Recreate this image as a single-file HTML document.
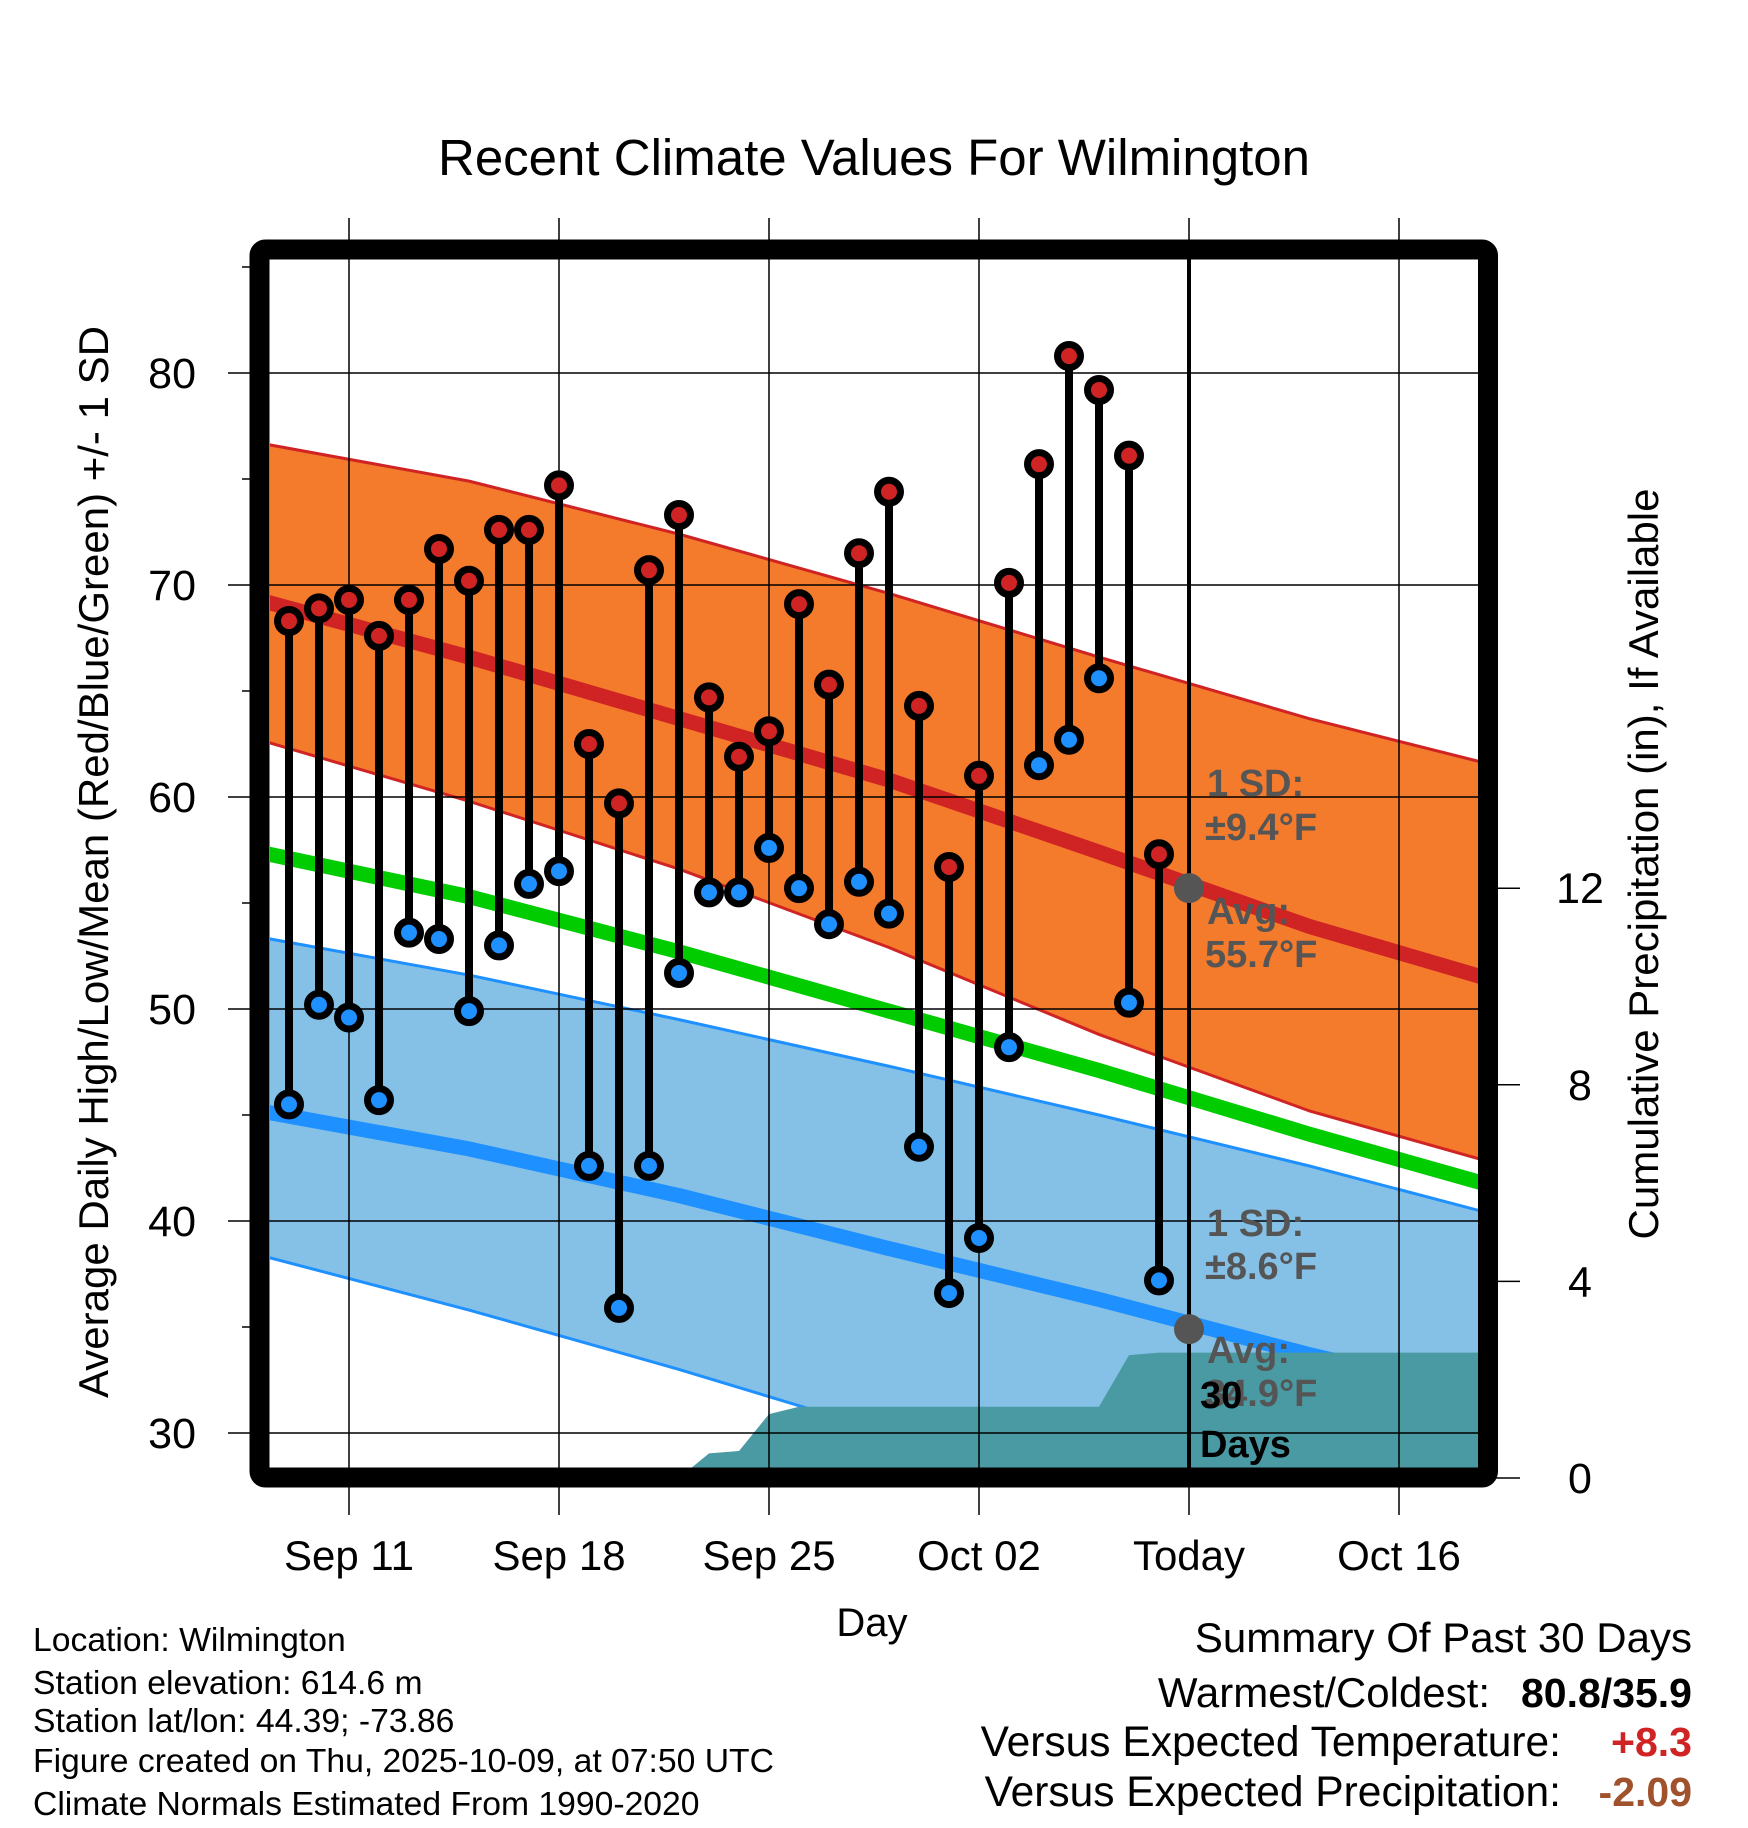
<!DOCTYPE html>
<html><head><meta charset="utf-8"><style>
html,body{margin:0;padding:0;background:#fff}
svg{display:block;font-family:"Liberation Sans",Arial,sans-serif}
</style></head><body>
<svg id="chart" width="1748" height="1828" viewBox="0 0 1748 1828" xmlns="http://www.w3.org/2000/svg">
<defs><clipPath id="plotclip"><rect x="270" y="260" width="1208" height="1208"/></clipPath></defs>
<text x="874" y="175" font-size="51" text-anchor="middle" fill="#000">Recent Climate Values For Wilmington</text>
<g id="plot" clip-path="url(#plotclip)"></g>
<g id="over"></g>
</svg>
<script>
// data: day offsets relative to Sep 11 (Sep 11 = 0)
const obsDays = [-2,-1,0,1,2,3,4,5,6,7,8,9,10,11,12,13,14,15,16,17,18,19,20,21,22,23,24,25,26,27];
const highs = [68.3,68.9,69.3,67.6,69.3,71.7,70.2,72.6,72.6,74.7,62.5,59.7,70.7,73.3,64.7,61.9,63.1,69.1,65.3,71.5,74.4,64.3,56.7,61.0,70.1,75.7,80.8,79.2,76.1,57.3];
const lows = [45.5,50.2,49.6,45.7,53.6,53.3,49.9,53.0,55.9,56.5,42.6,35.9,42.6,51.7,55.5,55.5,57.6,55.7,54.0,56.0,54.5,43.5,36.6,39.2,48.2,61.5,62.7,65.6,50.3,37.2];
const normDays = [-3,4,11,18,25,32,39];
const highMean = [69.3,66.6,63.7,60.8,57.4,53.9,51.0];
const highUpper = [76.7,74.9,72.4,69.6,66.6,63.7,61.2];
const highLower = [62.7,59.8,56.6,52.9,48.8,45.2,42.4];
const meanMean = [57.4,55.3,52.7,49.9,47.1,44.1,41.3];
const lowMean = [45.2,43.4,41.2,38.7,36.3,33.7,31.4];
const lowUpper = [53.4,51.6,49.5,47.3,45.0,42.6,40.0];
const lowLower = [38.4,35.8,33.0,30.0,27.5,25.0,22.5];
const precipDays = [11,12,13,14,15,16,17,18,19,20,21,22,23,24,25,26,27,28,29,30,31,32,33,34,35,36,37,38,39];
const precipCum = [0,0.5,0.55,1.3,1.45,1.45,1.45,1.45,1.45,1.45,1.45,1.45,1.45,1.45,1.45,2.5,2.55,2.55,2.55,2.55,2.55,2.55,2.55,2.55,2.55,2.55,2.55,2.55,2.55];
const xTickDays = [0,7,14,21,28,35];
const xTickLabels = ["Sep 11","Sep 18","Sep 25","Oct 02","Today","Oct 16"];
const yTicks = [30,40,50,60,70,80];
const pTicks = [0,4,8,12];
const todayDay = 28, todayHighAvg = 55.7, todayLowAvg = 34.9;

const NS="http://www.w3.org/2000/svg";
const X = d => 349 + d*30;
const Y = t => 373 + (80 - t)*21.2;
const P = p => 1478 - p*49.15;
const plot=document.getElementById('plot'), over=document.getElementById('over'), svg=document.getElementById('chart');
function mk(tag,attrs,parent){const e=document.createElementNS(NS,tag);for(const k in attrs)e.setAttribute(k,attrs[k]);(parent||plot).appendChild(e);return e;}
function band(up,lo,fill){
  let d='M'+normDays.map((dd,i)=>X(dd)+','+Y(up[i])).join(' L');
  d+=' L'+normDays.slice().reverse().map((dd,j)=>{const i=normDays.length-1-j;return X(dd)+','+Y(lo[i]);}).join(' L')+'Z';
  return mk('path',{d:d,fill:fill,stroke:'none'});
}
function line(arr,color,w){return mk('polyline',{points:normDays.map((dd,i)=>X(dd)+','+Y(arr[i])).join(' '),fill:'none',stroke:color,'stroke-width':w,'stroke-linejoin':'round'});}

let e;
e=band(highUpper,highLower,'#F47A2C');


e=band(lowUpper,lowLower,'#85C1E6');


[[highUpper,'#D02323'],[highLower,'#D02323'],[lowUpper,'#1E90FF'],[lowLower,'#1E90FF']].forEach(([a,c])=>{
  const l=line(a,c,3);
  
  
});
e=line(highMean,'#D02323',15);


e=line(meanMean,'#00CC00',15);


e=line(lowMean,'#1E90FF',15);


let pd='M'+X(precipDays[0])+','+P(0)+' '+precipDays.map((d,i)=>'L'+X(d)+','+P(precipCum[i])).join(' ')+' L'+X(precipDays[precipDays.length-1])+','+P(0)+'Z';
e=mk('path',{d:pd,fill:'#4A9AA3'});


xTickDays.forEach(d=>{
  const g=mk('line',{x1:X(d),x2:X(d),y1:218,y2:1515,stroke:'#000','stroke-width':1.5},over);
  
  
});
yTicks.forEach(t=>{
  const g=mk('line',{x1:228,x2:1478,y1:Y(t),y2:Y(t),stroke:'#000','stroke-width':1.5},over);
  
  
  const lb=mk('text',{x:196,y:Y(t)+15,'font-size':43,'text-anchor':'end'},over);lb.textContent=t;
  
  
});
[35,45,55,65,75,85].forEach(t=>{mk('line',{x1:242,x2:259,y1:Y(t),y2:Y(t),stroke:'#000','stroke-width':1.5},over);});
pTicks.forEach(p=>{
  mk('line',{x1:1488,x2:1520,y1:P(p),y2:P(p),stroke:'#000','stroke-width':1.5},over);
  const lb=mk('text',{x:1580,y:P(p)+15,'font-size':43,'text-anchor':'middle'},over);lb.textContent=p;
  
  
});
xTickDays.forEach((d,i)=>{
  const lb=mk('text',{x:X(d),y:1570,'font-size':42,'text-anchor':'middle'},over);lb.textContent=xTickLabels[i];
  
  
});
const mg=mk('g',{},over);
obsDays.forEach((d,i)=>{
  const s=mk('line',{x1:X(d),x2:X(d),y1:Y(highs[i]),y2:Y(lows[i]),stroke:'#000','stroke-width':8},mg);
  
  
});
obsDays.forEach((d,i)=>{
  const h=mk('circle',{cx:X(d),cy:Y(highs[i]),r:11.5,fill:'#D02323',stroke:'#000','stroke-width':7},mg);
  
  
  const l=mk('circle',{cx:X(d),cy:Y(lows[i]),r:11.5,fill:'#1E90FF',stroke:'#000','stroke-width':7},mg);
  
  
});
e=mk('line',{x1:X(todayDay),x2:X(todayDay),y1:255,y2:1478,stroke:'#000','stroke-width':4},over);


[todayHighAvg,todayLowAvg].forEach(v=>{
  const c=mk('circle',{cx:X(todayDay),cy:Y(v),r:15,fill:'#555'},over);
  
  
});
function txt(x,y,s,fs,fill,w,anchor,name){const t=mk('text',{x:x,y:y,'font-size':fs,fill:fill,'font-weight':w||'normal','text-anchor':anchor||'start'},over);t.textContent=s;
  
  return t;}
txt(1207,796,'1 SD:',38,'#555','bold','start','high-sd-label');
txt(1205,840,'±9.4°F',38,'#555','bold','start','high-sd-value');
txt(1207,924,'Avg:',38,'#555','bold','start','high-avg-label');
txt(1205,967,'55.7°F',38,'#555','bold','start','high-avg-value');
txt(1207,1236,'1 SD:',38,'#555','bold','start','low-sd-label');
txt(1205,1279,'±8.6°F',38,'#555','bold','start','low-sd-value');
txt(1207,1363,'Avg:',38,'#555','bold','start','low-avg-label');
txt(1205,1406,'34.9°F',38,'#555','bold','start','low-avg-value');
txt(1200,1408,'30',38,'#000','bold','start','precip-period-label');
txt(1200,1457,'Days',38,'#000','bold','start','precip-period-days');
e=mk('rect',{x:259.5,y:249.5,width:1228.5,height:1228,fill:'none',stroke:'#000','stroke-width':20,rx:6},over);


e=txt(0,0,'Average Daily High/Low/Mean (Red/Blue/Green) +/- 1 SD',42,'#000','normal','middle','y-axis-title');
e.setAttribute('transform','translate(108,862) rotate(-90)');
e=txt(0,0,'Cumulative Precipitation (in), If Available',42,'#000','normal','middle','precip-axis-title');
e.setAttribute('transform','translate(1658,864) rotate(-90)');
txt(872,1636,'Day',40,'#000','normal','middle','x-axis-title');
const info=['Location: Wilmington','Station elevation: 614.6 m','Station lat/lon: 44.39; -73.86','Figure created on Thu, 2025-10-09, at 07:50 UTC','Climate Normals Estimated From 1990-2020'];
const ib=[1651,1694,1732,1772,1815];
info.forEach((s,i)=>txt(33,ib[i],s,33.7,'#000','normal','start','station-info-line'));
txt(1692,1652,'Summary Of Past 30 Days',42,'#000','normal','end','summary-title');
txt(1490,1707,'Warmest/Coldest:',42,'#000','normal','end','warmest-coldest-label');
txt(1692,1707,'80.8/35.9',41,'#000','bold','end','warmest-coldest-value');
txt(1561,1756,'Versus Expected Temperature:',42.5,'#000','normal','end','temp-departure-label');
txt(1692,1756,'+8.3',41,'#D02323','bold','end','temp-departure-value');
txt(1561,1806,'Versus Expected Precipitation:',42.5,'#000','normal','end','precip-departure-label');
txt(1692,1806,'-2.09',41,'#A0522D','bold','end','precip-departure-value');
</script>
</body></html>
